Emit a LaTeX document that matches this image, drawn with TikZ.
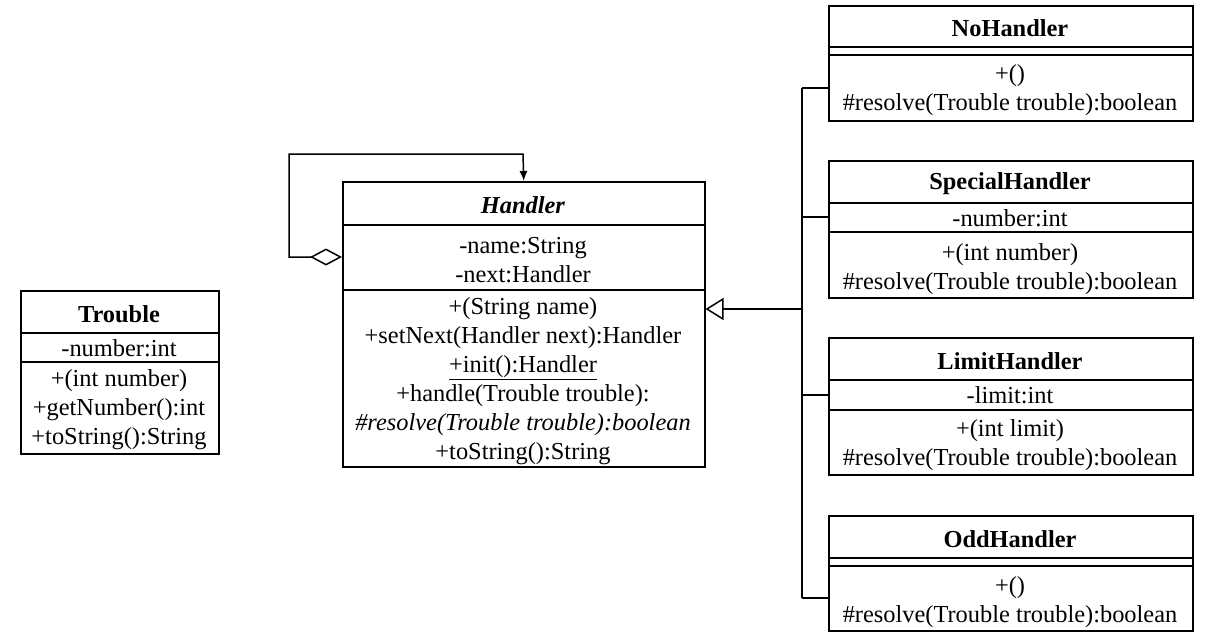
\documentclass[tikz,border=0pt]{standalone}
\usepackage{fontspec}
\setmainfont{Liberation Serif}
\usetikzlibrary{arrows.meta}
\begin{document}
\begin{tikzpicture}[x=1pt,y=-1pt,
  box/.style={draw, line width=1.5pt, inner sep=0pt, anchor=north west},
  txt/.style={inner sep=0pt, align=center, font=\fontsize{24.4}{29}\selectfont},
  ln/.style={line width=1.5pt}]
\useasboundingbox (0,0) rectangle (1206,638);
% Trouble
\node[box, minimum width=198pt, minimum height=163pt] (tr) at (20,290) {};
\draw[ln] (20,333) -- (218,333);
\draw[ln] (20,362) -- (218,362);
\node[txt] (trt) at (119,314) {\textbf{Trouble}};
\node[txt] (tra) at (119,348) {-number:int};
\node[txt] (trm) at (119,410) {+(int number)\\+getNumber():int\\+toString():String};
% Handler
\node[box, minimum width=362pt, minimum height=285pt] (h) at (342,181) {};
\draw[ln] (342,225) -- (704,225);
\draw[ln] (342,290) -- (704,290);
\node[txt] (ht) at (523,205) {\textbf{\textit{Handler}}};
\node[txt] (ha) at (523,260) {-name:String\\-next:Handler};
\node[txt] (hm) at (523,381) {+(String name)\\+setNext(Handler next):Handler\\\underline{+init():Handler}\\+handle(Trouble trouble):\\\textit{\#resolve(Trouble trouble):boolean}\\+toString():String};
% NoHandler
\node[box, minimum width=364pt, minimum height=115pt] (nh) at (828,5) {};
\draw[ln] (828,47) -- (1192,47);
\draw[ln] (828,55) -- (1192,55);
\node[txt] (nht) at (1010,28) {\textbf{NoHandler}};
\node[txt] (nhm) at (1010,90) {+()\\\#resolve(Trouble trouble):boolean};
% SpecialHandler
\node[box, minimum width=364pt, minimum height=137pt] (sh) at (828,160) {};
\draw[ln] (828,203) -- (1192,203);
\draw[ln] (828,232) -- (1192,232);
\node[txt] (sht) at (1010,184) {\textbf{SpecialHandler}};
\node[txt] (sha) at (1010,218) {-number:int};
\node[txt] (shm) at (1010,269) {+(int number)\\\#resolve(Trouble trouble):boolean};
% LimitHandler
\node[box, minimum width=364pt, minimum height=137pt] (lh) at (828,337) {};
\draw[ln] (828,380) -- (1192,380);
\draw[ln] (828,410) -- (1192,410);
\node[txt] (lht) at (1010,361) {\textbf{LimitHandler}};
\node[txt] (lha) at (1010,395) {-limit:int};
\node[txt] (lhm) at (1010,445) {+(int limit)\\\#resolve(Trouble trouble):boolean};
% OddHandler
\node[box, minimum width=364pt, minimum height=115pt] (oh) at (828,515) {};
\draw[ln] (828,558) -- (1192,558);
\draw[ln] (828,566) -- (1192,566);
\node[txt] (oht) at (1010,539) {\textbf{OddHandler}};
\node[txt] (ohm) at (1010,602) {+()\\\#resolve(Trouble trouble):boolean};
% generalization
\coordinate (j) at (802,309);
\coordinate (jt) at (802,88);
\coordinate (js) at (802,217);
\coordinate (jl) at (802,395);
\coordinate (jb) at (802,598);
\draw[ln] (jt) -- (jb);
\draw[ln] (jt) -- (nh.west |- jt);
\draw[ln] (js) -- (sh.west |- js);
\draw[ln] (jl) -- (lh.west |- jl);
\draw[ln] (jb) -- (oh.west |- jb);
\draw[ln, -{Triangle[open, fill=white, length=18pt, width=22pt]}] (j) -- (h.east |- j);
% self aggregation
\coordinate (a0) at (342,257);
\coordinate (a1) at (289,257);
\coordinate (a2) at (523,154);
\draw[ln, {Diamond[open, fill=white, length=32pt, width=17pt]}-{Latex[length=10pt, width=8pt]}] (h.west |- a0) -- (a1) |- (a2) -- (h.north);
\end{tikzpicture}
\end{document}
